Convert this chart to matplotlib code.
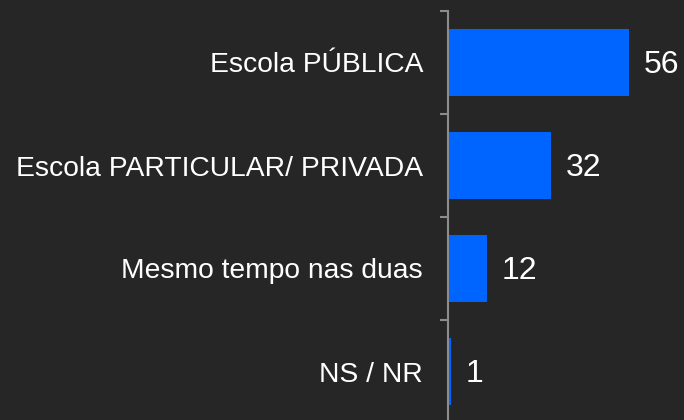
import matplotlib.pyplot as plt
import numpy as np

categories = ["Escola PÚBLICA", "Escola PARTICULAR/ PRIVADA", "Mesmo tempo nas duas", "NS / NR"]
values = [56, 32, 12, 1]

bg = "#262626"
bar_color = "#0064FF"
axis_color = "#8c8c8c"

plt.rcParams["font.family"] = ["Liberation Sans", "DejaVu Sans"]

fig = plt.figure(figsize=(6.84, 4.2), dpi=100, facecolor=bg)
ax = fig.add_axes([448 / 684, -3 / 420, 236 / 684, 412 / 420])
ax.set_facecolor(bg)

y = np.arange(len(categories))
ax.barh(y, values, height=0.65, color=bar_color)
ax.set_ylim(len(categories) - 0.5, -0.5)
ax.set_xlim(0, 73)

# value labels right of each bar
for yi, v in zip(y, values):
    ax.annotate(str(v), (v, yi), xytext=(10.5, -1.5), textcoords="offset points",
                va="center", ha="left", color="white", fontsize=23)

ax.set_yticks(y)
ax.set_yticklabels(categories, color="white", fontsize=20.3)
ax.tick_params(axis="y", which="major", length=0, pad=18)
ax.set_yticks(np.arange(-0.5, len(categories), 1), minor=True)
ax.tick_params(axis="y", which="minor", length=5.5, width=1.5, color=axis_color)

ax.set_xticks([])
for side in ["top", "right", "bottom"]:
    ax.spines[side].set_visible(False)
ax.spines["left"].set_color(axis_color)
ax.spines["left"].set_linewidth(1.5)

fig.savefig("out.png", dpi=100, facecolor=bg)
